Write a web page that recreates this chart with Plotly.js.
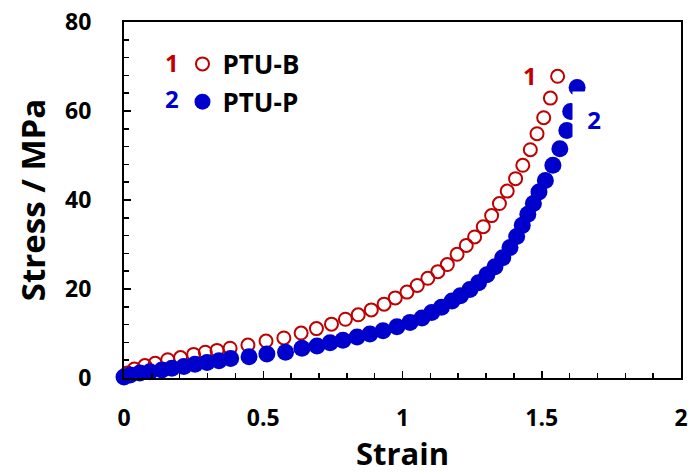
<!DOCTYPE html>
<html>
<head>
<meta charset="utf-8">
<script src="https://cdn.plot.ly/plotly-3.0.1.min.js"></script>
<style>html,body{margin:0;padding:0;background:#fff;}#chart{width:693px;height:474px;}</style>
</head>
<body>
<div id="chart"></div>
<script>
// PTU-B (series 1, open red circles)
const strainB = [0, 0.012, 0.037, 0.075, 0.112, 0.157, 0.203, 0.25, 0.292, 0.334, 0.381, 0.445, 0.51, 0.574, 0.636, 0.691, 0.745, 0.795, 0.841, 0.888, 0.934, 0.974, 1.016, 1.053, 1.091, 1.127, 1.161, 1.196, 1.229, 1.259, 1.29, 1.32, 1.348, 1.376, 1.406, 1.432, 1.459, 1.483, 1.507, 1.531, 1.557];
const stressB = [0.3, 1.1, 2.0, 2.8, 3.3, 4.1, 4.6, 5.3, 5.8, 6.2, 6.7, 7.4, 8.3, 9.0, 10.1, 11.1, 12.1, 13.2, 14.2, 15.3, 16.6, 18.0, 19.3, 20.8, 22.4, 23.9, 25.5, 27.8, 29.8, 31.7, 34.0, 36.5, 39.2, 42.0, 44.8, 47.8, 51.3, 54.9, 58.5, 62.9, 67.8];
// PTU-P (series 2, filled blue circles)
const strainP = [0, 0.022, 0.057, 0.093, 0.136, 0.172, 0.215, 0.255, 0.298, 0.341, 0.383, 0.449, 0.513, 0.58, 0.639, 0.693, 0.74, 0.786, 0.837, 0.883, 0.93, 0.98, 1.027, 1.07, 1.105, 1.14, 1.178, 1.208, 1.242, 1.273, 1.303, 1.332, 1.36, 1.386, 1.41, 1.43, 1.45, 1.47, 1.49, 1.513, 1.54, 1.565, 1.59, 1.604, 1.627];
const stressP = [0.2, 0.7, 1.1, 1.4, 1.8, 2.2, 2.6, 3.1, 3.5, 3.9, 4.4, 4.8, 5.4, 5.8, 6.7, 7.2, 7.9, 8.5, 9.2, 9.9, 10.6, 11.5, 12.5, 13.5, 14.7, 15.9, 17.3, 18.5, 19.9, 21.4, 23.2, 25.0, 27.0, 29.3, 31.8, 34.3, 36.8, 39.2, 41.8, 44.4, 47.8, 51.5, 55.6, 59.9, 65.3];

const seriesNames = ['PTU-B', 'PTU-P'];
const seriesNums = ['1', '2'];
const xTickVals = [0, 0.5, 1, 1.5, 2];
const xTickText = ['0', '0.5', '1', '1.5', '2'];
const yTickVals = [0, 20, 40, 60, 80];
const yTickText = ['0', '20', '40', '60', '80'];

const RED = '#C00000', BLUE = '#0000CC';
const FONT = 'Open Sans, Noto Sans, sans-serif';

const traces = [
  {x: strainB, y: stressB, name: seriesNames[0], type: 'scatter', mode: 'markers', legendgroup: 'a',
   cliponaxis: false,
   marker: {symbol: 'circle-open', size: 13, color: RED, line: {width: 2, color: RED}}},
  {x: strainP, y: stressP, name: seriesNames[1], type: 'scatter', mode: 'markers', legendgroup: 'b',
   cliponaxis: false,
   marker: {symbol: 'circle', size: 17, color: BLUE}}
];

const layout = {
  width: 693, height: 474,
  margin: {l: 124, r: 12, t: 22, b: 96},
  paper_bgcolor: '#fff', plot_bgcolor: '#fff',
  font: {family: FONT, color: '#000'},
  showlegend: true,
  legend: {x: 0.105, y: 0.948, xanchor: 'left', yanchor: 'top', bgcolor: 'rgba(0,0,0,0)',
           font: {family: FONT, size: 26, weight: 'bold', color: '#000'},
           traceorder: 'grouped', tracegroupgap: 1, itemsizing: 'trace'},
  xaxis: {range: [0, 2], tickvals: xTickVals, ticktext: xTickText, showgrid: false, zeroline: false,
          showline: true, linecolor: '#000', linewidth: 2, mirror: true,
          ticks: 'inside', ticklen: 7, tickwidth: 1.5, tickcolor: '#000', ticklabelstandoff: 18,
          minor: {dtick: 0.1, ticks: 'inside', ticklen: 5, tickwidth: 1.5, tickcolor: '#000'},
          tickfont: {family: FONT, size: 23, weight: 'bold', color: '#000'},
          title: {text: 'Strain', font: {family: FONT, size: 31, weight: 'bold', color: '#000'}, standoff: 8}},
  yaxis: {range: [0, 80], tickvals: yTickVals, ticktext: yTickText, showgrid: false, zeroline: false,
          showline: true, linecolor: '#000', linewidth: 2, mirror: true,
          ticks: 'inside', ticklen: 7, tickwidth: 1.5, tickcolor: '#000', ticklabelstandoff: 26,
          minor: {dtick: 4, ticks: 'inside', ticklen: 5, tickwidth: 1.5, tickcolor: '#000'},
          tickfont: {family: FONT, size: 23, weight: 'bold', color: '#000'},
          title: {text: 'Stress / MPa', font: {family: FONT, size: 33, weight: 'bold', color: '#000'}, standoff: 10}},
  annotations: [
    {xref: 'paper', yref: 'paper', x: 0.087, y: 0.887, xanchor: 'center', yanchor: 'middle',
     text: seriesNums[0], showarrow: false,
     font: {family: FONT, size: 24, weight: 'bold', color: RED}},
    {xref: 'paper', yref: 'paper', x: 0.087, y: 0.786, xanchor: 'center', yanchor: 'middle',
     text: seriesNums[1], showarrow: false,
     font: {family: FONT, size: 24, weight: 'bold', color: BLUE}},
    {x: 1.458, y: 67.9, text: seriesNums[0], showarrow: false,
     font: {family: FONT, size: 24, weight: 'bold', color: RED}},
    {x: 1.677, y: 58.3, text: seriesNums[1], showarrow: false, bgcolor: '#fff',
     width: 42, height: 54, borderpad: 0, align: 'center', xshift: 3,
     font: {family: FONT, size: 24, weight: 'bold', color: BLUE}}
  ]
};

Plotly.newPlot('chart', traces, layout, {displayModeBar: false, staticPlot: true});
</script>
</body>
</html>
